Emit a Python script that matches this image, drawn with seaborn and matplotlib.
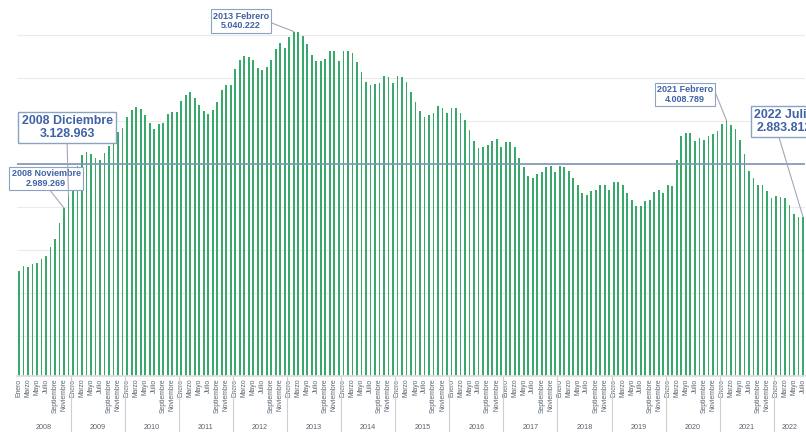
import numpy as np
import pandas as pd
import seaborn as sns
import matplotlib.pyplot as plt
from matplotlib.transforms import blended_transform_factory

# Paro registrado mensual, enero 2008 - julio 2022
YEARS = list(range(2008, 2023))
MONTHS = ['Enero', 'Febrero', 'Marzo', 'Abril', 'Mayo', 'Junio', 'Julio',
          'Agosto', 'Septiembre', 'Octubre', 'Noviembre', 'Diciembre']

paro_2008 = [2261657, 2314845, 2300975, 2338517, 2352874, 2390403, 2426245, 2530001, 2625368, 2818026, 2989269, 3128963]
paro_2009 = [3327801, 3481859, 3605402, 3644041, 3620139, 3564889, 3544105, 3629080, 3709447, 3808353, 3868946, 3923603]
paro_2010 = [4048493, 4130625, 4166613, 4142425, 4066202, 3982368, 3908261, 3969661, 3972483, 4085976, 4110294, 4100073]
paro_2011 = [4231003, 4299263, 4333669, 4269360, 4189659, 4121801, 4080742, 4130927, 4226744, 4360926, 4420462, 4422359]
paro_2012 = [4599829, 4712098, 4750867, 4744235, 4714122, 4615269, 4587455, 4625634, 4705279, 4833521, 4907817, 4848723]
paro_2013 = [4980778, 5040222, 5035243, 4989193, 4890928, 4763680, 4698814, 4698845, 4724355, 4811383, 4808908, 4701338]
paro_2014 = [4814435, 4812486, 4795866, 4684301, 4572385, 4449701, 4419860, 4427930, 4447650, 4526804, 4512153, 4447711]
paro_2015 = [4525691, 4512116, 4451939, 4333016, 4215585, 4120304, 4046276, 4067955, 4094042, 4176369, 4149298, 4093508]
paro_2016 = [4150710, 4152986, 4094770, 4011171, 3891403, 3767054, 3683061, 3697496, 3720297, 3764982, 3789823, 3702974]
paro_2017 = [3760231, 3750876, 3702317, 3573036, 3461128, 3362811, 3335924, 3382324, 3410182, 3467026, 3474281, 3412781]
paro_2018 = [3476528, 3470248, 3422551, 3335868, 3252130, 3162162, 3135021, 3182068, 3202509, 3254703, 3252867, 3202297]
paro_2019 = [3285761, 3289040, 3255084, 3163566, 3079491, 3015686, 3011433, 3065804, 3079711, 3177659, 3198184, 3163605]
paro_2020 = [3253853, 3246047, 3548312, 3831203, 3857776, 3862883, 3773034, 3802814, 3776485, 3826043, 3851312, 3888137]
paro_2021 = [3964353, 4008789, 3949640, 3910628, 3781250, 3614339, 3416498, 3333915, 3257802, 3257068, 3182687, 3105905]
paro_2022 = [3123078, 3111684, 3108763, 3022503, 2922991, 2880582, 2883812]

series = [paro_2008, paro_2009, paro_2010, paro_2011, paro_2012, paro_2013, paro_2014,
          paro_2015, paro_2016, paro_2017, paro_2018, paro_2019, paro_2020, paro_2021, paro_2022]

REFERENCE_LEVEL = 3500000

# (year, month index) of highlighted values
highlights = [(2008, 10, 'small'), (2008, 11, 'big'), (2013, 1, 'small'),
              (2021, 1, 'small'), (2022, 6, 'big')]

rows = []
for year, vals in zip(YEARS, series):
    for m, v in enumerate(vals):
        rows.append({'year': year, 'month': m, 'mes': f'{year} {MONTHS[m]}', 'parados': v})
df = pd.DataFrame(rows)


def fmt_es(v):
    return f'{v:,}'.replace(',', '.')


def main():
    sns.set_theme(style='white')
    plt.rcParams['font.family'] = ['Liberation Sans', 'DejaVu Sans']

    W, H = 806, 432
    fig = plt.figure(figsize=(W / 100, H / 100), dpi=100)
    ax = fig.add_axes([16.7 / W, 56 / H, (805.3 - 16.7) / W, 376 / H])

    sns.barplot(data=df, x='mes', y='parados', color='#38a96a', width=0.4,
                saturation=1, linewidth=0, ax=ax, zorder=2)

    n = len(df)
    ax.set_xlim(-0.5, n - 0.5)
    ax.set_ylim(1.035e6, 5.407e6)

    ax.set_yticks(np.arange(1.5e6, 5.01e6, 5e5))
    ax.set_yticklabels([])
    ax.yaxis.grid(True, color='#ebebeb', lw=0.8, zorder=0)
    ax.axhline(REFERENCE_LEVEL, color='#7d95b6', lw=1.2, zorder=3)

    ticks = np.flatnonzero(df['month'].to_numpy() % 2 == 0)
    ax.set_xticks(ticks)
    ax.set_xticklabels([MONTHS[m] for m in df['month'].to_numpy()[ticks]], rotation=90)
    ax.tick_params(axis='x', labelsize=4.9, length=0, pad=2, colors='#5a6470')
    ax.tick_params(axis='y', length=0)
    ax.set_xlabel('')
    ax.set_ylabel('')
    for s in ['top', 'right', 'left']:
        ax.spines[s].set_visible(False)
    ax.spines['bottom'].set_color('#dddddd')

    # year groups under the month labels
    trans = blended_transform_factory(ax.transData, ax.transAxes)
    for year in YEARS:
        idx = np.flatnonzero(df['year'].to_numpy() == year)
        ax.text(idx.mean(), -0.138, str(year), transform=trans, ha='center',
                va='center', fontsize=5.2, color='#5a6470')
        if year > YEARS[0]:
            ax.plot([idx.min() - 0.5] * 2, [0, -0.16], transform=trans,
                    color='#cfcfcf', lw=0.8, clip_on=False)

    # annotation boxes (figure pixels, measured from top)
    box_pos = {
        (2008, 10): ((46, 178.5), (0.53, 0.0)),
        (2008, 11): ((67, 127.5), (0.5, 0.0)),
        (2013, 1): ((241, 21), (1.0, 0.45)),
        (2021, 1): ((685, 94.5), (1.0, 0.9)),
        (2022, 6): ((784, 121.5), (0.4, 0.0)),
    }
    for year, m, size in highlights:
        row = df[(df['year'] == year) & (df['month'] == m)].iloc[0]
        (bx, by), rel = box_pos[(year, m)]
        label = f'{year} {MONTHS[m]}\n{fmt_es(int(row.parados))}'
        fs = 8.9 if size == 'big' else 6.5
        ax.annotate(label, xy=(row.name, row.parados), xycoords='data',
                    xytext=(bx, H - by), textcoords='figure pixels',
                    ha='center', va='center', fontsize=fs, fontweight='bold',
                    color='#3f62a6', linespacing=1.1, zorder=5,
                    bbox=dict(boxstyle='square,pad=0.25', fc='white',
                              ec='#8ca2c2', lw=1.0 if size == 'big' else 0.8),
                    arrowprops=dict(arrowstyle='-', color='#a3a8b8', lw=0.8,
                                    shrinkA=0, shrinkB=0, relpos=rel))

    fig.savefig('out.png', dpi=100)


if __name__ == '__main__':
    main()
